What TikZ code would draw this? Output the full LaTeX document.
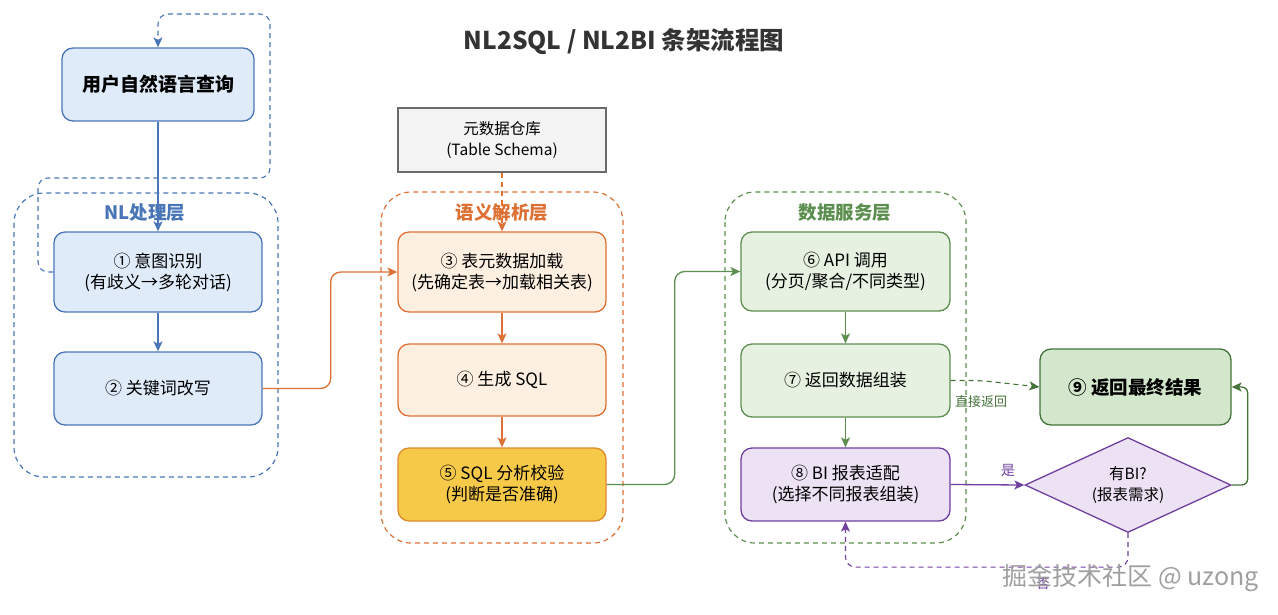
\documentclass[tikz,border=0pt]{standalone}
\usepackage{fontspec}
\setmainfont{Noto Sans CJK SC}
\usetikzlibrary{arrows.meta,shapes.geometric}
\definecolor{bluefill}{HTML}{E0EBFA}
\definecolor{blueline}{HTML}{4A76B8}
\definecolor{orfill}{HTML}{FDF0E1}
\definecolor{orline}{HTML}{DD7033}
\definecolor{yelfill}{HTML}{F7C948}
\definecolor{yelline}{HTML}{DE8A2E}
\definecolor{grfill}{HTML}{E6F1E1}
\definecolor{grline}{HTML}{5C8F4F}
\definecolor{grdark}{HTML}{44733A}
\definecolor{gr9fill}{HTML}{D3E7CD}
\definecolor{pufill}{HTML}{ECE2F4}
\definecolor{puline}{HTML}{6F3FA0}
\definecolor{grayfill}{HTML}{F4F4F4}
\definecolor{grayline}{HTML}{6B6B6B}
\definecolor{titlecol}{HTML}{333333}
\tikzset{
  txt/.style={font=\fontsize{17}{21}\selectfont, align=center, text=black},
  box/.style={txt, draw, rounded corners=11pt, line width=1.3pt, minimum width=208pt, inner sep=0pt},
  bluebox/.style={box, fill=bluefill, draw=blueline},
  orbox/.style={box, fill=orfill, draw=orline},
  yelbox/.style={box, fill=yelfill, draw=yelline},
  grbox/.style={box, fill=grfill, draw=grline},
  pubox/.style={box, fill=pufill, draw=puline},
  group/.style={dash pattern=on 5pt off 4pt, line width=1.2pt, rounded corners=30pt},
  grouplabel/.style={font=\fontsize{18.5}{20}\selectfont\bfseries},
  tip/.style={-{Stealth[length=10pt,width=9pt,inset=2.5pt]}},
  conn/.style={tip, line width=1.3pt, rounded corners=10pt},
  dconn/.style={conn, dash pattern=on 5pt off 4pt},
}
\begin{document}
\begin{tikzpicture}[x=1pt,y=-1pt]
\useasboundingbox (0,0) rectangle (1278,614);
% title
\node[font=\fontsize{24.5}{26}\selectfont\bfseries, text=titlecol] (title) at (624,42) {NL2SQL / NL2BI 条架流程图};

% groups
\draw[group, draw=blueline] (14,193) rectangle (278,477);
\draw[group, draw=orline] (381,192) rectangle (623,543);
\draw[group, draw=grline] (725,192) rectangle (966,543);

% nodes
\node[bluebox, minimum width=192pt, minimum height=73pt, font=\fontsize{19}{21}\selectfont\bfseries] (user) at (158,84.5) {用户自然语言查询};
\node[bluebox, minimum height=80pt] (n1) at (158,272) {① 意图识别\\(有歧义→多轮对话)};
\node[bluebox, minimum height=73pt] (n2) at (158,388.5) {② 关键词改写};

\node[txt, draw=grayline, fill=grayfill, line width=1.3pt, minimum width=208pt, minimum height=64pt, font=\fontsize{15.5}{21}\selectfont] (meta) at (502,140) {元数据仓库\\(Table Schema)};
\node[orbox, minimum height=80pt] (n3) at (502,272) {③ 表元数据加载\\(先确定表→加载相关表)};
\node[orbox, minimum height=72pt] (n4) at (502,380) {④ 生成 SQL};
\node[yelbox, minimum height=73pt] (n5) at (502,484.5) {⑤ SQL 分析校验\\(判断是否准确)};

\node[grbox, minimum width=209pt, minimum height=79pt] (n6) at (845.5,271.5) {⑥ API 调用\\(分页/聚合/不同类型)};
\node[grbox, minimum width=209pt, minimum height=73pt] (n7) at (845.5,380.5) {⑦ 返回数据组装};
\node[pubox, minimum width=209pt, minimum height=73pt] (n8) at (845.5,484.5) {⑧ BI 报表适配\\(选择不同报表组装)};

\node[box, fill=gr9fill, draw=grdark, minimum width=191pt, minimum height=76pt, font=\fontsize{18.5}{21}\selectfont\bfseries] (n9) at (1135.5,387) {⑨ 返回最终结果};
\node[txt, diamond, draw=puline, fill=pufill, line width=1.3pt, minimum width=206pt, minimum height=95pt, aspect=2.17, inner sep=0pt, font=\fontsize{15.5}{21}\selectfont] (dia) at (1128,485) {有BI?\\(报表需求)};

% connectors
\draw[conn, draw=blueline] (user.south) -- (n1.north);
\draw[conn, draw=blueline] (n1.south) -- (n2.north);
\draw[dconn, draw=blueline, line width=1.1pt] (n1.west) -| (38,178) -| (270,14) -| (user.north);

\draw[conn, draw=orline] (n2.east) -- ++(68,0) |- (n3.west);
\draw[dconn, draw=orline, line width=1.1pt] (meta.south) -- (n3.north);
\draw[conn, draw=orline] (n3.south) -- (n4.north);
\draw[conn, draw=orline] (n4.south) -- (n5.north);

\draw[conn, draw=grline] (n5.east) -- ++(68,0) |- (n6.west);
\draw[conn, draw=grline] (n6.south) -- (n7.north);
\draw[conn, draw=grline] (n7.south) -- (n8.north);
\draw[dconn, draw=grdark, line width=1.1pt] (n7.east) -- ++(30,0) -- (n9.west);
\draw[conn, draw=puline] (n8.east) -- (dia.west);
\draw[conn, draw=grdark, rounded corners=6pt] (dia.east) -- ++(16,0) |- (n9.east);
\draw[dconn, draw=puline, line width=1.1pt] (dia.south) -- ++(0,34) -| (n8.south);

% group labels (over lines)
\node[grouplabel, text=blueline] (lblnl) at (145,213) {NL处理层};
\node[grouplabel, text=orline] (lblsem) at (502,213) {语义解析层};
\node[grouplabel, text=grline] (lbldata) at (845,213) {数据服务层};

% edge labels
\node[font=\fontsize{13}{15}\selectfont, text=grdark] (lbldirect) at (981,402) {直接返回};
\node[font=\fontsize{14}{16}\selectfont, text=puline] (lblyes) at (1008,470) {是};
\node[font=\fontsize{13}{15}\selectfont, text=puline] (lblno) at (1043,584) {否};

% watermark
\node[font=\fontsize{25}{28}\selectfont, text=gray!75] (wm) at (1131,578) {掘金技术社区 @ uzong};
\end{tikzpicture}
\end{document}
